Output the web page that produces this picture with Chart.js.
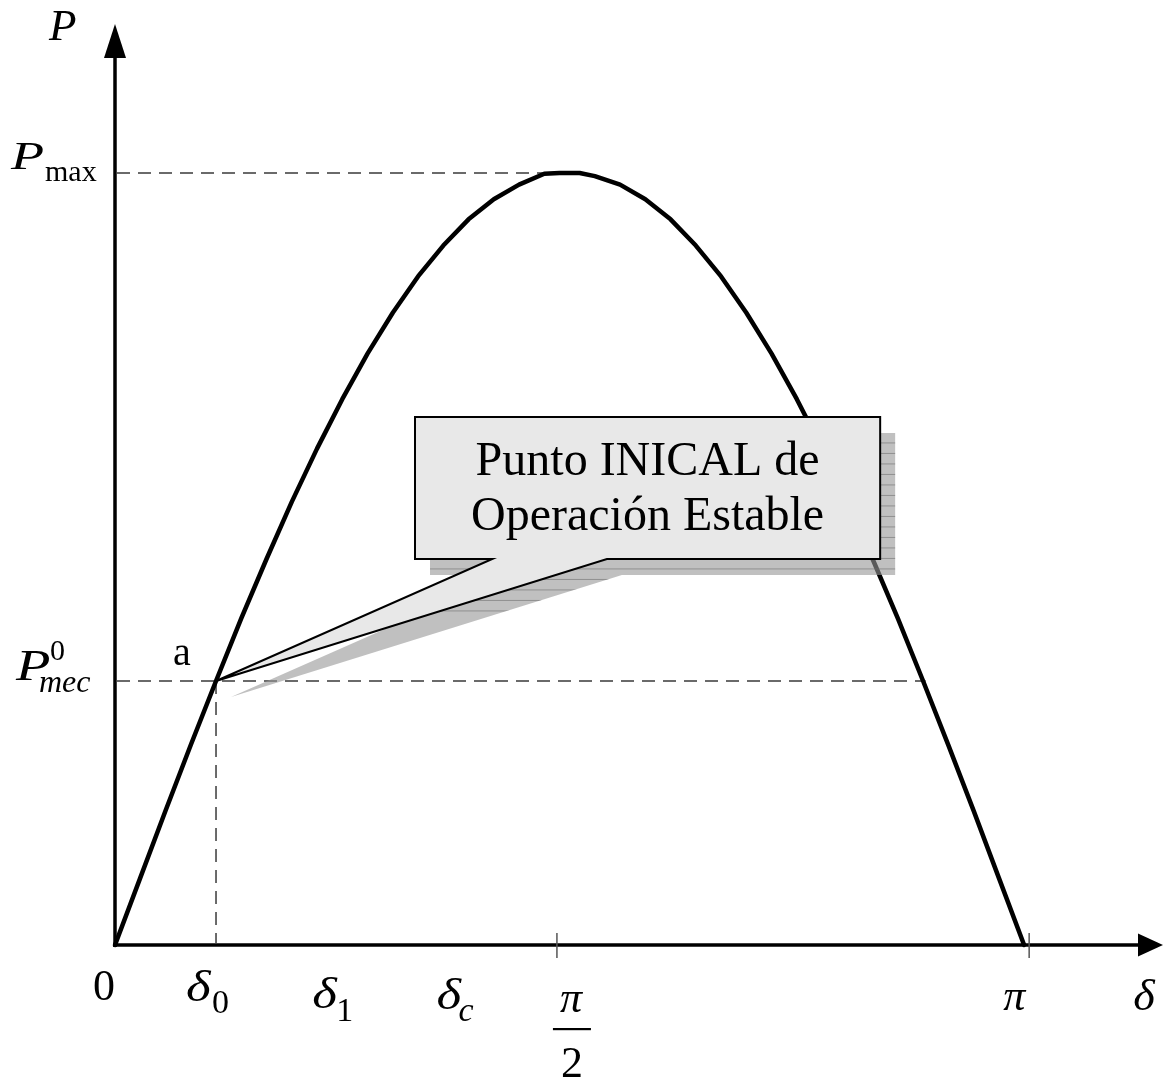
<!DOCTYPE html>
<html><head><meta charset="utf-8">
<script src="https://cdn.jsdelivr.net/npm/chart.js@4/dist/chart.umd.min.js"></script>
<style>html,body{margin:0;padding:0;background:#fff;}canvas{display:block}</style>
</head><body>
<canvas id="c" width="1163" height="1080"></canvas>
<script>
// Power-angle curve (delta in degrees, P in per unit of Pmax)
const deltaDeg = [0,5,10,15,20,25,30,35,40,45,50,55,60,65,70,75,80,85,88,90,92,95,100,105,110,115,120,125,130,135,140,145,150,155,160,165,170,175,180];
const powerPU  = [0,0.087,0.174,0.259,0.342,0.423,0.5,0.574,0.643,0.707,0.766,0.819,0.866,0.906,0.94,0.966,0.985,0.999,1.0,1.0,1.0,0.996,0.985,0.966,0.94,0.906,0.866,0.819,0.766,0.707,0.643,0.574,0.5,0.423,0.342,0.259,0.174,0.087,0];
// Reference levels
const pMaxLevel = 1.0;
const pMecLevel = 0.342;
// Axis marks (degrees) and their labels
const markNames  = ['zero','delta0','delta1','deltaC','halfPi','pi','delta'];
const markDeg    = [0, 20, 43, 67, 87.5, 181, 203];
const tickedMarks = ['halfPi','pi'];
// Callout
const calloutLines = ['Punto INICAL de', 'Operación Estable'];
const calloutBoxDeg = [59.4, 151.5];   // left / right
const calloutBoxP   = [0.684, 0.5];    // top / bottom
const calloutBaseDeg = [74.7, 97.4];   // pointer base on box bottom
const calloutTip = [20, 0.342];        // point a

const SERIF = '"Liberation Serif","Times New Roman",serif';

function degOf(name){ return markDeg[markNames.indexOf(name)]; }

const overlay = {
  id: 'overlay',
  beforeDatasetsDraw(chart){
    const ctx = chart.ctx, xs = chart.scales.x, ys = chart.scales.y;
    const x0 = xs.getPixelForValue(0), y0 = ys.getPixelForValue(0);
    ctx.save();
    ctx.strokeStyle = '#3a3a3a';
    ctx.lineWidth = 1.5;
    ctx.setLineDash([13, 8]);
    let yMax = ys.getPixelForValue(pMaxLevel);
    ctx.beginPath(); ctx.moveTo(x0+2, yMax); ctx.lineTo(xs.getPixelForValue(88), yMax); ctx.stroke();
    let yMec = ys.getPixelForValue(pMecLevel);
    ctx.beginPath(); ctx.moveTo(x0+2, yMec); ctx.lineTo(xs.getPixelForValue(160.5), yMec); ctx.stroke();
    let xd0 = xs.getPixelForValue(degOf('delta0'));
    ctx.beginPath(); ctx.moveTo(xd0, yMec); ctx.lineTo(xd0, y0-2); ctx.stroke();
    ctx.restore();
  },
  afterDatasetsDraw(chart){
    const ctx = chart.ctx, xs = chart.scales.x, ys = chart.scales.y;
    const x0 = xs.getPixelForValue(0), y0 = ys.getPixelForValue(0);
    const area = chart.chartArea;
    ctx.save();
    // axes
    ctx.strokeStyle = '#000'; ctx.fillStyle = '#000';
    ctx.lineWidth = 3.5;
    ctx.beginPath(); ctx.moveTo(x0, y0+2); ctx.lineTo(x0, area.top+30); ctx.stroke();
    ctx.beginPath(); ctx.moveTo(x0-2, y0); ctx.lineTo(area.right-22, y0); ctx.stroke();
    ctx.beginPath(); ctx.moveTo(x0, area.top); ctx.lineTo(x0-11, area.top+34); ctx.lineTo(x0+11, area.top+34); ctx.closePath(); ctx.fill();
    ctx.beginPath(); ctx.moveTo(area.right, y0); ctx.lineTo(area.right-25, y0-11.5); ctx.lineTo(area.right-25, y0+11.5); ctx.closePath(); ctx.fill();
    // ticks
    ctx.strokeStyle = '#555'; ctx.lineWidth = 1.5;
    tickedMarks.forEach(n => {
      const x = xs.getPixelForValue(degOf(n));
      ctx.beginPath(); ctx.moveTo(x, y0-12); ctx.lineTo(x, y0+13); ctx.stroke();
    });

    // --- text labels ---
    ctx.fillStyle = '#000';
    ctx.textBaseline = 'alphabetic';
    const t = (s, x, y, font, align, sx) => {
      ctx.save();
      ctx.font = font; ctx.textAlign = align || 'left';
      ctx.translate(x, y); ctx.scale(sx || 1, 1);
      ctx.fillText(s, 0, 0);
      ctx.restore();
    };
    // y-axis name
    t('P', x0-66, 40, 'italic 45px '+SERIF);
    // Pmax
    const yMax = ys.getPixelForValue(pMaxLevel);
    t('P', 11, yMax-4, 'italic 41px '+SERIF, 'left', 1.32);
    t('max', 45, yMax+8, '30px '+SERIF);
    // Pmec^0
    const yMec = ys.getPixelForValue(pMecLevel);
    t('P', 16, yMec-1, 'italic 44px '+SERIF, 'left', 1.28);
    t('0', 50, yMec-21, '30px '+SERIF);
    t('mec', 39, yMec+11, 'italic 32px '+SERIF);
    // point a
    t('a', xs.getPixelForValue(degOf('delta0'))-43, yMec-16, '40px '+SERIF);
    // x labels
    t('0', x0-22, y0+55, '44px '+SERIF);
    let xd = xs.getPixelForValue(degOf('delta0'));
    t('δ', xd-30, y0+56, 'italic 44px '+SERIF, 'left', 1.2);
    t('0', xd-4, y0+68, '34px '+SERIF);
    xd = xs.getPixelForValue(degOf('delta1'));
    t('δ', xd-20, y0+63, 'italic 44px '+SERIF, 'left', 1.2);
    t('1', xd+4, y0+76, '34px '+SERIF);
    xd = xs.getPixelForValue(degOf('deltaC'));
    t('δ', xd-17, y0+64, 'italic 44px '+SERIF, 'left', 1.2);
    t('c', xd+5, y0+76, 'italic 34px '+SERIF);
    xd = xs.getPixelForValue(degOf('halfPi'));
    t('π', xd+14, y0+67, 'italic 44px '+SERIF, 'center');
    ctx.fillRect(xd-4, y0+83, 38, 2.2);
    t('2', xd+15, y0+132, '44px '+SERIF, 'center');
    xd = xs.getPixelForValue(degOf('pi'));
    t('π', xd-15, y0+65, 'italic 44px '+SERIF, 'center');
    xd = xs.getPixelForValue(degOf('delta'));
    t('δ', xd-7, y0+65, 'italic 44px '+SERIF, 'left', 1.05);

    // --- callout ---
    const bl = xs.getPixelForValue(calloutBoxDeg[0]), br = xs.getPixelForValue(calloutBoxDeg[1]);
    const bt = ys.getPixelForValue(calloutBoxP[0]), bb = ys.getPixelForValue(calloutBoxP[1]);
    const pb1 = xs.getPixelForValue(calloutBaseDeg[0]), pb2 = xs.getPixelForValue(calloutBaseDeg[1]);
    const tx = xs.getPixelForValue(calloutTip[0]), ty = ys.getPixelForValue(calloutTip[1]);
    const dx = 15, dy = 16;
    ctx.save();
    ctx.fillStyle = 'rgba(150,150,150,0.6)';
    ctx.beginPath();
    ctx.moveTo(bl+dx, bt+dy); ctx.lineTo(br+dx, bt+dy); ctx.lineTo(br+dx, bb+dy);
    ctx.lineTo(pb2+dx, bb+dy); ctx.lineTo(tx+dx, ty+dy); ctx.lineTo(pb1+dx, bb+dy);
    ctx.lineTo(bl+dx, bb+dy); ctx.closePath(); ctx.fill();
    ctx.clip();
    ctx.strokeStyle = 'rgba(110,110,110,0.6)'; ctx.lineWidth = 1;
    for (let y = bt+dy+10; y < bb+dy+40; y += 10.5) {
      ctx.beginPath(); ctx.moveTo(bl, y); ctx.lineTo(br+dx+2, y); ctx.stroke();
    }
    ctx.restore();
    ctx.fillStyle = '#e8e8e8'; ctx.strokeStyle = '#000'; ctx.lineWidth = 2;
    ctx.beginPath();
    ctx.moveTo(bl, bt); ctx.lineTo(br, bt); ctx.lineTo(br, bb);
    ctx.lineTo(pb2, bb); ctx.lineTo(tx, ty); ctx.lineTo(pb1, bb);
    ctx.lineTo(bl, bb); ctx.closePath(); ctx.fill(); ctx.stroke();
    ctx.fillStyle = '#000';
    const cx = (bl+br)/2;
    t(calloutLines[0], cx, bt+58, '48px '+SERIF, 'center');
    t(calloutLines[1], cx, bt+113, '48px '+SERIF, 'center');
    ctx.restore();
  }
};

new Chart(document.getElementById('c'), {
  type: 'line',
  data: {
    labels: deltaDeg,
    datasets: [{
      data: deltaDeg.map((d, i) => ({x: d, y: powerPU[i]})),
      borderColor: '#000',
      borderWidth: 4.5,
      pointRadius: 0,
      tension: 0,
      fill: false,
      clip: false,
      borderCapStyle: 'round',
      borderJoinStyle: 'round'
    }]
  },
  options: {
    responsive: false,
    devicePixelRatio: 1,
    animation: false,
    layout: { padding: { left: 115, right: 0, top: 24, bottom: 135 } },
    plugins: { legend: { display: false }, tooltip: { enabled: false } },
    scales: {
      x: { type: 'linear', min: 0, max: 207.5, display: false },
      y: { type: 'linear', min: 0, max: 1.193, display: false }
    }
  },
  plugins: [overlay]
});
</script>
</body></html>
